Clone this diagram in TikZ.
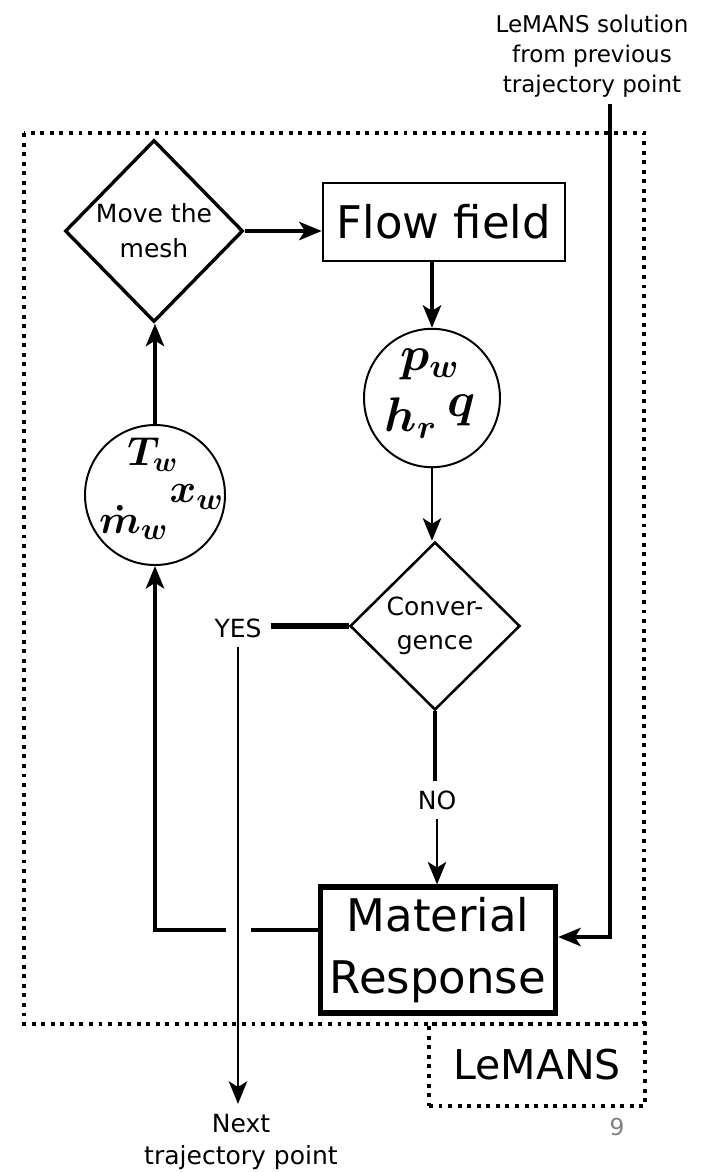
\documentclass[tikz,border=0pt]{standalone}
\usepackage{fontspec}
\setmainfont{DejaVu Sans}
\usepackage{tikz}
\usetikzlibrary{shapes.geometric, arrows.meta, positioning}

\begin{document}
\begin{tikzpicture}[
  x=0.125mm, y=-0.125mm,
  flowbox/.style={rectangle, draw=black, line width=0.9pt, inner sep=0pt,
              minimum width=30.25mm, minimum height=9.75mm,
              font=\fontsize{16}{19}\selectfont},
  matbox/.style={rectangle, draw=black, line width=1.8pt, inner sep=0pt,
              minimum width=29.4mm, minimum height=15.75mm, align=center,
              font=\fontsize{16}{22}\selectfont},
  meshdia/.style={diamond, draw=black, line width=1.2pt, inner sep=0pt,
              minimum width=22.25mm, minimum height=22.75mm, align=center,
              font=\fontsize{8.9}{12.4}\selectfont},
  convdia/.style={diamond, draw=black, line width=0.9pt, inner sep=0pt,
              minimum width=21.25mm, minimum height=21mm, align=center,
              font=\fontsize{8.9}{12}\selectfont},
  varcirc/.style={ellipse, draw=black, line width=0.7pt, inner sep=0pt},
  sym/.style={inner sep=0pt, font=\fontsize{16.5}{20}\selectfont\boldmath},
  lbl/.style={align=center, font=\fontsize{8.9}{11.7}\selectfont},
  dotbox/.style={draw=black, line width=1.1pt, dash pattern=on 1.4pt off 2pt},
  arr/.style={-{Stealth[length=8pt,width=6.5pt,inset=2pt]}, line width=1.4pt},
  tarr/.style={-{Stealth[length=8pt,width=6.5pt,inset=2pt]}, line width=1pt},
  lin/.style={line width=1.4pt}
]
\useasboundingbox (0,0) rectangle (715,1172);

% LeMANS loop
\draw[dotbox] (24,133) rectangle (644,1024);
\node[dotbox, minimum width=27mm, minimum height=10.25mm, inner sep=0pt,
      font=\fontsize{14.6}{17}\selectfont] (lemans) at (537,1065) {LeMANS};

\node[meshdia] (mesh) at (154,231) {Move the\\mesh};
\node[flowbox] (flow) at (444,222) {Flow field};
\node[varcirc, minimum width=17mm, minimum height=17.3mm] (pq) at (432,398) {};
\node[varcirc, minimum width=17.5mm, minimum height=17.5mm] (tx) at (155,495) {};
\node[convdia] (conv) at (435,626) {Conver-\\gence};
\node[matbox] (mat) at (438,950) {Material\\Response};

% quantities in the circles
\node[sym] (pw) at (430,364) {$p_w$};
\node[sym] (hr) at (411,418) {$h_r$};
\node[sym] (q)  at (462,410) {$q$};
\node[sym, font=\fontsize{14.5}{18}\selectfont\boldmath] (tw) at (153,455) {$T_w$};
\node[sym, font=\fontsize{15}{18}\selectfont\boldmath] (xw) at (197,497) {$x_w$};
\node[sym, font=\fontsize{15}{18}\selectfont\boldmath] (mw) at (134,522) {$\dot{m}_w$};

\node[lbl] (yes) at (238,628) {YES};
\node[lbl] (no)  at (437,800) {NO};
\node[lbl] (next) at (241,1142) {Next\\trajectory point};
\node[lbl, font=\fontsize{8.2}{10.7}\selectfont] (sol) at (592,56)
  {LeMANS solution\\from previous\\trajectory point};
\node[text=gray, font=\fontsize{8.3}{10}\selectfont] (page) at (617,1127) {9};

\coordinate (gapR) at (251,930);
\coordinate (gapL) at (226,930);
\coordinate (feed) at (610,104);
\coordinate (feedin) at (610,937);

\draw[arr] (mesh.east) -- (mesh.east -| flow.west);
\draw[arr] (flow.south -| pq.north) -- (pq.north);
\draw[tarr] (pq.south) -- (pq.south |- conv.north);
\draw[line width=2pt] (conv.west) -- (conv.west -| yes.east);
\draw[tarr] (yes.south) -- (yes.south |- next.north);
\draw[line width=1.1pt] (conv.south) -- (conv.south |- no.north);
\draw[tarr] (no.south) -- (no.south |- mat.north);
\draw[lin] (mat.west |- gapR) -- (gapR);
\draw[arr] (gapL) -| (tx.south);
\draw[arr] (tx.north) -- (tx.north |- mesh.south);
\draw[arr] (feed) -- (feedin) -- (feedin -| mat.east);

\end{tikzpicture}
\end{document}
